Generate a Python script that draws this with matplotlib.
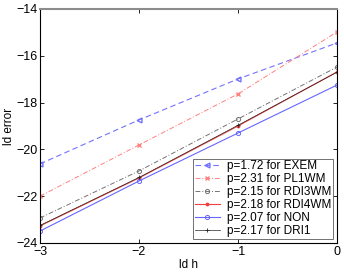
import matplotlib
matplotlib.use("Agg")
import matplotlib.pyplot as plt

plt.rcParams['font.family'] = ['Liberation Sans', 'DejaVu Sans']

h = [-3, -2, -1, 0]
exem = [-20.62, -18.74, -16.99, -15.45]
pl1wm = [-22.0, -19.81, -17.63, -14.98]
rdi3wm = [-22.93, -20.92, -18.70, -16.48]
rdi4wm = [-23.27, -21.22, -19.0, -16.69]
non = [-23.49, -21.35, -19.30, -17.25]
dri1 = [-23.25, -21.20, -18.97, -16.70]

labels = ["p=1.72 for EXEM", "p=2.31 for PL1WM", "p=2.15 for RDI3WM",
          "p=2.18 for RDI4WM", "p=2.07 for NON", "p=2.17 for DRI1"]

fig = plt.figure(figsize=(3.44, 2.73), dpi=100)
ax = fig.add_axes([40/344, 1-243/273, 297/344, 234/273])

ax.plot(h, exem, color=(0.45, 0.45, 1.0), ls=(0, (5, 3)), lw=0.8, marker='<', ms=3.5, mfc='none', label=labels[0])
ax.plot(h, pl1wm, color=(1.0, 0.5, 0.5), ls=(0, (5, 2, 1, 2)), lw=0.7, marker='x', ms=3, label=labels[1])
ax.plot(h, rdi3wm, color=(0.45, 0.45, 0.45), ls=(0, (5, 2, 1, 2)), lw=0.7, marker='o', ms=3, mfc='none', mew=0.7, label=labels[2])
ax.plot(h, rdi4wm, color=(0.95, 0.25, 0.25), ls='-', lw=0.8, marker='.', ms=3.5, label=labels[3])
ax.plot(h, non, color=(0.4, 0.4, 1.0), ls='-', lw=0.8, marker='o', ms=3, mfc='none', mew=0.7, label=labels[4])
ax.plot(h, dri1, color=(0.15, 0.15, 0.15), ls='-', lw=0.5, marker='+', ms=3.5, mew=0.6, label=labels[5])

ax.set_xlim(-3, 0)
ax.set_ylim(-24, -14)
ax.set_xticks([-3, -2, -1, 0])
ax.set_yticks([-24, -22, -20, -18, -16, -14])
ax.tick_params(direction='in', length=3, labelsize=9, width=0.6, top=True, right=True, pad=2)
ax.set_xlabel("ld h", fontsize=8.5, labelpad=1)
ax.set_ylabel("ld error", fontsize=8.5, labelpad=1)
for s in ax.spines.values():
    s.set_linewidth(0.8)
ax.spines['top'].set_color('0.55')
ax.spines['top'].set_linewidth(1.5)

leg = ax.legend(loc='lower right', fontsize=8.5, frameon=True, fancybox=False,
                edgecolor='0.3', handlelength=2.1, handletextpad=0.6,
                labelspacing=0.08, borderpad=0.15, borderaxespad=0.35)
leg.get_frame().set_linewidth(0.7)

fig.savefig("out.png", dpi=100)
